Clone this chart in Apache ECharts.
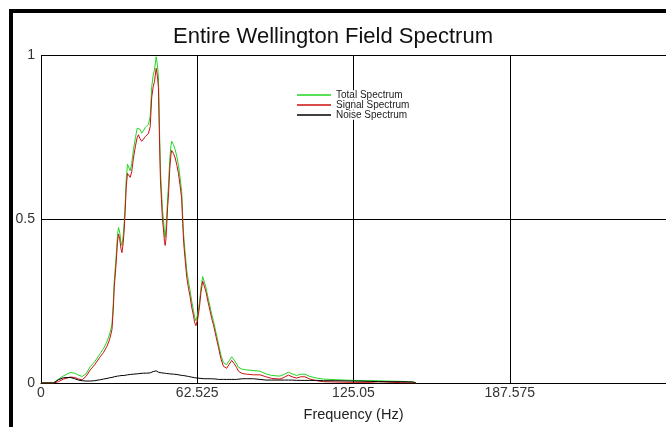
<!DOCTYPE html>
<html>
<head>
<meta charset="utf-8">
<script src="https://cdn.jsdelivr.net/npm/echarts@6/dist/echarts.min.js"></script>
<style>
  html, body { margin: 0; padding: 0; background: #fff; }
  #chart { width: 666px; height: 427px; }
</style>
</head>
<body>
<div id="chart"></div>
<script>
// frequency samples (Hz) shared by the three spectra
const freq = [0, 5, 7, 9, 11.7, 13.5, 15, 16.5, 18, 19.7, 21.5, 23.7, 25, 26.4, 27.5, 28.4, 28.9, 29.3, 30.1, 30.6,
  31, 31.5, 32, 32.4, 32.9, 33.3, 33.7, 34.1, 34.6, 35.2, 35.7, 36.3, 37, 37.8, 38.5, 39, 39.6, 40.3, 41, 41.7,
  42.3, 43, 43.7, 44.3, 44.9, 45.4, 46.1, 46.6, 47, 47.4, 47.8, 48.2, 48.6, 49, 49.4, 49.7, 50, 50.3, 50.7, 51,
  51.5, 52, 52.3, 53, 53.7, 54.4, 55, 55.6, 56.3, 56.7, 57.1, 57.6, 58.3, 59, 59.6, 60.3, 61, 61.5, 62, 62.7,
  63.4, 64, 64.7, 65.3, 66, 66.8, 67.6, 68.3, 69, 70, 71, 72, 73, 74.3, 75.3, 76.3, 77.3, 78.3, 79, 80.5,
  82.3, 85, 87.6, 90, 92.3, 95.6, 97.5, 99, 100.5, 102.3, 104, 105.6, 107.6, 110.3, 113, 118, 125, 132, 135, 138,
  144, 149, 150];

const totalSpectrum = [0, 0, 0.012, 0.022, 0.032, 0.03, 0.024, 0.02, 0.028, 0.05, 0.065, 0.09, 0.105, 0.126, 0.15, 0.18, 0.24, 0.31, 0.39, 0.45,
  0.475, 0.46, 0.43, 0.42, 0.45, 0.49, 0.55, 0.62, 0.668, 0.665, 0.648, 0.67, 0.713, 0.75, 0.778, 0.784, 0.775, 0.763, 0.77, 0.78,
  0.784, 0.79, 0.814, 0.905, 0.94, 0.956, 0.996, 0.97, 0.935, 0.78, 0.65, 0.59, 0.53, 0.5, 0.46, 0.445, 0.47, 0.51, 0.57, 0.6,
  0.68, 0.725, 0.738, 0.728, 0.713, 0.69, 0.665, 0.63, 0.585, 0.51, 0.45, 0.405, 0.345, 0.31, 0.285, 0.25, 0.222, 0.2, 0.19, 0.21,
  0.245, 0.29, 0.325, 0.31, 0.292, 0.262, 0.235, 0.21, 0.19, 0.155, 0.12, 0.085, 0.062, 0.056, 0.068, 0.08, 0.07, 0.058, 0.048, 0.042,
  0.04, 0.038, 0.036, 0.028, 0.023, 0.021, 0.027, 0.033, 0.028, 0.023, 0.027, 0.027, 0.02, 0.015, 0.012, 0.01, 0.008, 0.007, 0.007, 0.006,
  0.005, 0.003, 0];

const signalSpectrum = [0, 0, 0.004, 0.012, 0.018, 0.017, 0.012, 0.01, 0.02, 0.04, 0.056, 0.08, 0.093, 0.112, 0.134, 0.163, 0.222, 0.291, 0.37, 0.43,
  0.455, 0.44, 0.41, 0.398, 0.428, 0.467, 0.527, 0.597, 0.64, 0.64, 0.628, 0.645, 0.687, 0.724, 0.75, 0.758, 0.746, 0.738, 0.742, 0.752,
  0.758, 0.762, 0.783, 0.872, 0.905, 0.92, 0.961, 0.935, 0.902, 0.748, 0.619, 0.559, 0.5, 0.47, 0.432, 0.42, 0.44, 0.481, 0.541, 0.571,
  0.652, 0.697, 0.71, 0.701, 0.687, 0.664, 0.64, 0.606, 0.562, 0.487, 0.428, 0.383, 0.324, 0.29, 0.266, 0.232, 0.206, 0.184, 0.175, 0.195,
  0.231, 0.276, 0.311, 0.297, 0.279, 0.249, 0.222, 0.197, 0.178, 0.143, 0.109, 0.074, 0.051, 0.045, 0.057, 0.069, 0.059, 0.047, 0.036, 0.029,
  0.027, 0.025, 0.025, 0.019, 0.014, 0.012, 0.018, 0.024, 0.019, 0.015, 0.019, 0.019, 0.012, 0.007, 0.004, 0.003, 0.002, 0.002, 0.004, 0.003,
  0.001, 0, 0];

const noiseSpectrum = [0, 0, 0.01, 0.016, 0.017, 0.013, 0.009, 0.007, 0.006, 0.006, 0.007, 0.01, 0.012, 0.014, 0.016, 0.017, 0.018, 0.019, 0.02, 0.021,
  0.021, 0.022, 0.022, 0.023, 0.023, 0.023, 0.024, 0.024, 0.025, 0.025, 0.026, 0.026, 0.027, 0.027, 0.028, 0.028, 0.029, 0.029, 0.03, 0.03,
  0.03, 0.031, 0.031, 0.033, 0.035, 0.036, 0.037, 0.035, 0.033, 0.032, 0.031, 0.031, 0.03, 0.03, 0.03, 0.03, 0.03, 0.029, 0.029, 0.029,
  0.028, 0.028, 0.028, 0.027, 0.026, 0.026, 0.025, 0.024, 0.023, 0.023, 0.022, 0.022, 0.021, 0.02, 0.019, 0.018, 0.016, 0.016, 0.015, 0.015,
  0.014, 0.014, 0.014, 0.013, 0.013, 0.013, 0.013, 0.013, 0.012, 0.012, 0.011, 0.011, 0.011, 0.011, 0.011, 0.011, 0.011, 0.011, 0.012, 0.013,
  0.013, 0.013, 0.011, 0.009, 0.009, 0.009, 0.009, 0.009, 0.009, 0.008, 0.008, 0.008, 0.008, 0.008, 0.007, 0.007, 0.006, 0.005, 0.004, 0.004,
  0.004, 0.003, 0];

const xTickLabels = ['0', '62.525', '125.05', '187.575', '250.1'];
const yTickLabels = ['0', '0.5', '1'];
const xStep = 62.525;

const font = '"Liberation Sans", Arial, sans-serif';

const chart = echarts.init(document.getElementById('chart'), null, { renderer: 'canvas' });

const toPoints = (vals) => freq.map((f, i) => [f, vals[i]]);

const option = {
  animation: false,
  backgroundColor: '#fff',
  title: {
    text: 'Entire Wellington Field Spectrum',
    left: 'center',
    top: 26,
    padding: 0,
    textStyle: { fontFamily: font, fontSize: 22, fontWeight: 'normal', color: '#111' }
  },
  legend: {
    orient: 'vertical',
    left: 297,
    top: 90,
    padding: 0,
    itemGap: 0,
    itemWidth: 34,
    itemHeight: 1.5,
    icon: 'rect',
    data: ['Total Spectrum', 'Signal Spectrum', 'Noise Spectrum'],
    textStyle: { fontFamily: font, fontSize: 10, color: '#222', backgroundColor: '#fff', lineHeight: 9.5 }
  },
  grid: { left: 41, top: 55.5, width: 626, bottom: 42.5, containLabel: false },
  xAxis: {
    type: 'value',
    min: 0,
    max: 250.1,
    interval: xStep,
    name: 'Frequency (Hz)',
    nameLocation: 'middle',
    nameGap: 24,
    nameTextStyle: { fontFamily: font, fontSize: 14.5, color: '#222' },
    axisLine: { show: true, lineStyle: { color: '#000', width: 1 } },
    axisTick: { show: false },
    axisLabel: {
      fontFamily: font, fontSize: 14, color: '#333', margin: 3, showMaxLabel: false,
      formatter: (v) => xTickLabels[Math.round(v / xStep)]
    },
    splitLine: { show: true, lineStyle: { color: '#000', width: 1 } }
  },
  yAxis: {
    type: 'value',
    min: 0,
    max: 1,
    interval: 0.5,
    axisLine: { show: true, lineStyle: { color: '#000', width: 1 } },
    axisTick: { show: false },
    axisLabel: {
      fontFamily: font, fontSize: 14, color: '#333', margin: 6,
      formatter: (v) => yTickLabels[Math.round(v / 0.5)]
    },
    splitLine: { show: true, lineStyle: { color: '#000', width: 1 } }
  },
  series: [
    {
      name: 'Total Spectrum', type: 'line', data: toPoints(totalSpectrum),
      symbol: 'none', color: '#22d422', lineStyle: { width: 1 }
    },
    {
      name: 'Signal Spectrum', type: 'line', data: toPoints(signalSpectrum),
      symbol: 'none', color: '#cc1111', lineStyle: { width: 1 }
    },
    {
      name: 'Noise Spectrum', type: 'line', data: toPoints(noiseSpectrum),
      symbol: 'none', color: '#000', lineStyle: { width: 1 }
    }
  ],
  graphic: [
    // thick frame edges at top and left
    { type: 'rect', shape: { x: 9, y: 9, width: 660, height: 4 }, style: { fill: '#000' }, silent: true },
    { type: 'rect', shape: { x: 9, y: 9, width: 4, height: 420 }, style: { fill: '#000' }, silent: true }
  ]
};

chart.setOption(option);
</script>
</body>
</html>
